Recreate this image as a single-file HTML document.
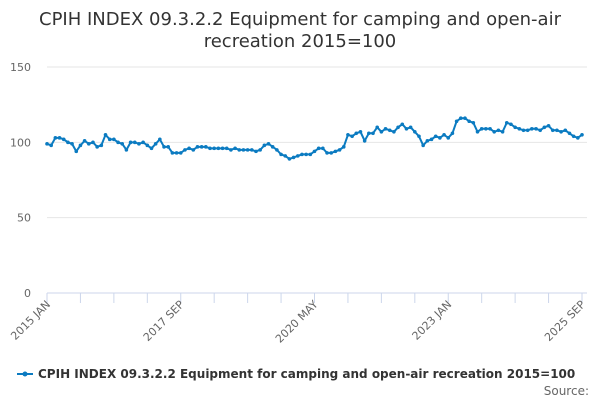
<!DOCTYPE html>
<html><head><meta charset="utf-8"><style>
body{margin:0;background:#fff;font-family:"DejaVu Sans","Liberation Sans",sans-serif}
#c{width:600px;height:400px;position:relative;overflow:hidden}
text{font-family:"DejaVu Sans","Liberation Sans",sans-serif}
</style></head><body>
<div id="c">
<svg id="s" width="600" height="400">
<text x="300" y="25" text-anchor="middle" font-size="18" fill="#333">CPIH INDEX 09.3.2.2 Equipment for camping and open-air</text>
<text x="300" y="47" text-anchor="middle" font-size="18" fill="#333">recreation 2015=100</text>
<g id="grid"></g><g id="xa"></g><g id="ser"></g>
<g>
<line x1="17" y1="374" x2="33" y2="374" stroke="#0b7bc1" stroke-width="2"/>
<circle cx="25" cy="374" r="2.5" fill="#0b7bc1"/>
<text x="38" y="378" font-size="12" font-weight="bold" fill="#333">CPIH INDEX 09.3.2.2 Equipment for camping and open-air recreation 2015=100</text>
</g>
<text x="589" y="395" text-anchor="end" font-size="12" fill="#666">Source:</text>
</svg></div>
<script>
const yTicks=[0,50,100,150];
const xLabels=["2015 JAN","2017 SEP","2020 MAY","2023 JAN","2025 SEP"];
const values=[
99,98,103,103,102,100,99,94,98,101,99,100,
97,98,105,102,102,100,99,95,100,100,99,100,
98,96,99,102,97,97,93,93,93,95,96,95,
97,97,97,96,96,96,96,96,95,96,95,95,
95,95,94,95,98,99,97,95,92,91,89,90,
91,92,92,92,94,96,96,93,93,94,95,97,
105,104,106,107,101,106,106,110,107,109,108,107,
110,112,109,110,107,104,98,101,102,104,103,105,
103,106,114,116,116,114,113,107,109,109,109,107,
108,107,113,112,110,109,108,108,109,109,108,110,
111,108,108,107,108,106,104,103,105];
const NS="http://www.w3.org/2000/svg";
const x0=47,x1=582,y0=293,y150=67;
const X=i=>x0+(x1-x0)*i/(values.length-1);
const Y=v=>y0-(y0-y150)*v/150;
const grid=document.getElementById('grid');
yTicks.forEach(t=>{
 const l=document.createElementNS(NS,'line');
 
 
 l.setAttribute('x1',x0);l.setAttribute('x2',x1+5);l.setAttribute('y1',Y(t));l.setAttribute('y2',Y(t));
 l.setAttribute('stroke',t==0?'#ccd6eb':'#e6e6e6');grid.appendChild(l);
 const tx=document.createElementNS(NS,'text');
 
 
 tx.setAttribute('x',31);tx.setAttribute('y',Y(t)+4);tx.setAttribute('text-anchor','end');
 tx.setAttribute('font-size','11');tx.setAttribute('fill','#666');tx.textContent=t;grid.appendChild(tx);
});
const xa=document.getElementById('xa');
for(let k=0;k<=16;k++){
 const i=k*8, xx=X(i);
 const l=document.createElementNS(NS,'line');
 
 
 l.setAttribute('x1',xx);l.setAttribute('x2',xx);l.setAttribute('y1',y0);l.setAttribute('y2',y0+10);
 l.setAttribute('stroke','#ccd6eb');xa.appendChild(l);
 if(k%4==0){
  const tx=document.createElementNS(NS,'text');
  
  
  tx.setAttribute('transform',`translate(${xx+4},${y0+12}) rotate(-45)`);
  tx.setAttribute('text-anchor','end');tx.setAttribute('font-size','11');tx.setAttribute('fill','#666');
  tx.textContent=xLabels[k/4];xa.appendChild(tx);
 }
}
const ser=document.getElementById('ser');
const p=document.createElementNS(NS,'polyline');


p.setAttribute('points',values.map((v,i)=>X(i)+','+Y(v)).join(' '));
p.setAttribute('fill','none');p.setAttribute('stroke','#0b7bc1');p.setAttribute('stroke-width','2');
ser.appendChild(p);
values.forEach((v,i)=>{
 const c=document.createElementNS(NS,'circle');
 
 
 c.setAttribute('cx',X(i));c.setAttribute('cy',Y(v));c.setAttribute('r','1.8');c.setAttribute('fill','#0b7bc1');
 ser.appendChild(c);
});
</script>
</body></html>
